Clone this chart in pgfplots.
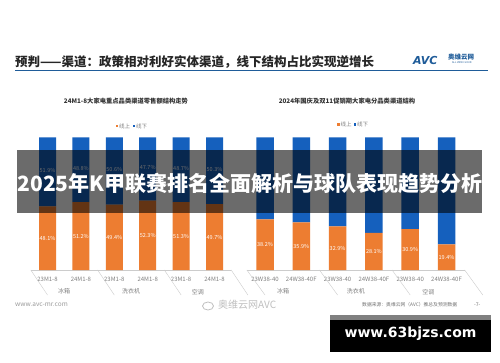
\documentclass[border=0pt]{standalone}
\usepackage{pgfplots}
\usepackage{pgfplotstable}
\pgfplotsset{compat=1.18}
\usepackage{fontspec}
\setmainfont{Noto Sans CJK SC}
\newfontfamily\dejavu{DejaVu Sans}
\definecolor{cOn}{HTML}{ED7D31}
\definecolor{cOff}{HTML}{1560BD}
\definecolor{cLine}{HTML}{1F5C99}
\definecolor{cTick}{HTML}{808080}

% x: bar index, on: 线上 share (%), off: 线下 share (%)
\pgfplotstableread{
x on off
0 48.1 51.9
1 51.2 48.8
2 49.4 50.6
3 52.3 47.7
4 51.3 48.7
5 49.7 50.3
}\leftdata
\pgfplotstableread{
x on off
0 38.2 61.8
1 35.9 64.1
2 32.9 67.1
3 28.1 71.9
4 30.9 69.1
5 19.4 80.6
}\rightdata

\pgfplotsset{
  geom/.style={
    anchor=south west, scale only axis, height=132.5pt,
    xmin=-0.5, xmax=5.5, ymin=0, ymax=100, clip=false,
  },
  panel/.style={
    geom,
    axis line style={draw=none}, ytick=\empty, xtick={0,...,5},
    major tick length=0pt,
    xticklabel style={font=\fontsize{6}{6}\selectfont, text=cTick, anchor=center, yshift=-9pt},
    ybar stacked,
  },
  overlay/.style={geom, hide axis},
  lab/.style={
    draw=none, mark=none, point meta=explicit,
    /pgf/number format/assume math mode=true,
    nodes near coords={\pgfmathprintnumber[fixed,fixed zerofill,precision=1]{\pgfplotspointmeta}\%},
    every node near coord/.append style={font=\fontsize{5.5}{5.5}\selectfont, text=white, anchor=center, inner sep=0pt},
  },
}
\begin{document}
\begin{tikzpicture}[x=1pt,y=1pt]
\fill[white] (0,0) rectangle (500,362);
\useasboundingbox (0,0) rectangle (500,362);
% title
\node[anchor=west, font=\bfseries\fontsize{12.5}{13}\selectfont, inner sep=0, text=black!85] at (15,300) {预判——渠道：政策相对利好实体渠道，线下结构占比实现逆增长};
\draw[cLine, line width=1pt] (15,291) -- (488,291);
% logo
\node[anchor=west, font=\dejavu\bfseries\itshape\fontsize{11}{11}\selectfont, text=cLine, inner sep=0] at (413,302) {AVC};
\node[anchor=west, font=\bfseries\fontsize{6.5}{7}\selectfont, text=cLine, inner sep=0] at (448,305) {奥维云网};
\node[anchor=west, font=\fontsize{2.5}{3}\selectfont, text=cLine, inner sep=0] at (452,299.5) {ALL VIEW CLOUD};
% chart titles
\node[font=\bfseries\fontsize{6.3}{7}\selectfont, text=black!80] at (126,261) {24M1-8大家电重点品类渠道零售额结构走势};
\node[font=\bfseries\fontsize{6.3}{7}\selectfont, text=black!80] at (347,261) {2024年国庆及双11促销期大家电分品类渠道结构};
% legends
\fill[cOn] (115.5,234.5) rectangle (118,237);
\node[anchor=west, inner sep=0, font=\fontsize{5.5}{6}\selectfont, text=cTick] at (119,235.8) {线上};
\fill[cOff] (132.5,234.5) rectangle (135,237);
\node[anchor=west, inner sep=0, font=\fontsize{5.5}{6}\selectfont, text=cTick] at (136,235.8) {线下};
\fill[cOn] (337,236) rectangle (339.5,238.5);
\node[anchor=west, inner sep=0, font=\fontsize{5.5}{6}\selectfont, text=cTick] at (340.5,237.3) {线上};
\fill[cOff] (353.5,236) rectangle (356,238.5);
\node[anchor=west, inner sep=0, font=\fontsize{5.5}{6}\selectfont, text=cTick] at (357,237.3) {线下};

% left panel
\begin{axis}[panel, at={(30.8pt,92pt)}, width=200.4pt, bar width=17pt,
  xticklabels={23M1-8,24M1-8,23M1-8,24M1-8,23M1-8,24M1-8}]
\addplot[fill=cOn, draw=none] table[x=x, y=on] {\leftdata};
\addplot[fill=cOff, draw=none] table[x=x, y=off] {\leftdata};
\draw[black!20] (axis cs:-0.5,0) -- (axis cs:5.5,0);
\draw[black!20] (axis cs:-0.5,0) -- ++(0,-25pt);
\draw[black!20] (axis cs:1.5,0) -- ++(0,-25pt);
\draw[black!20] (axis cs:3.5,0) -- ++(0,-25pt);
\draw[black!20] (axis cs:5.5,0) -- ++(0,-25pt);
\node[font=\fontsize{6}{6}\selectfont, text=cTick, yshift=-21.7pt] at (axis cs:0.5,0) {冰箱};
\node[font=\fontsize{6}{6}\selectfont, text=cTick, yshift=-21.7pt] at (axis cs:2.5,0) {洗衣机};
\node[font=\fontsize{6}{6}\selectfont, text=cTick, yshift=-21.7pt] at (axis cs:4.5,0) {空调};
\end{axis}
\begin{axis}[overlay, at={(30.8pt,92pt)}, width=200.4pt]
\addplot[lab] table[x=x, y expr=\thisrow{on}/2, meta=on] {\leftdata};
\addplot[lab, every node near coord/.append style={yshift=1.5pt}] table[x=x, y expr=100-\thisrow{off}/2, meta=off] {\leftdata};
\end{axis}

% right panel
\begin{axis}[panel, at={(246.85pt,92pt)}, width=217.8pt, bar width=17.5pt,
  xticklabels={23W38-40,24W38-40F,23W38-40,24W38-40F,23W38-40,24W38-40F}]
\addplot[fill=cOn, draw=none] table[x=x, y=on] {\rightdata};
\addplot[fill=cOff, draw=none] table[x=x, y=off] {\rightdata};
\draw[black!20] (axis cs:-0.5,0) -- (axis cs:5.5,0);
\draw[black!20] (axis cs:-0.5,0) -- ++(0,-25pt);
\draw[black!20] (axis cs:1.5,0) -- ++(0,-25pt);
\draw[black!20] (axis cs:3.5,0) -- ++(0,-25pt);
\draw[black!20] (axis cs:5.5,0) -- ++(0,-25pt);
\node[font=\fontsize{6}{6}\selectfont, text=cTick, yshift=-21.7pt] at (axis cs:0.5,0) {冰箱};
\node[font=\fontsize{6}{6}\selectfont, text=cTick, yshift=-21.7pt] at (axis cs:2.5,0) {洗衣机};
\node[font=\fontsize{6}{6}\selectfont, text=cTick, yshift=-21.7pt] at (axis cs:4.5,0) {空调};
\end{axis}
\begin{axis}[overlay, at={(246.85pt,92pt)}, width=217.8pt]
\addplot[lab] table[x=x, y expr=\thisrow{on}/2, meta=on] {\rightdata};
\end{axis}

% footer
\node[anchor=west, inner sep=0, font=\fontsize{6.5}{7}\selectfont, text=black!40] at (15,57) {www.avc-mr.com};
\draw[black!25, line width=0.8pt] (208,56) ellipse (5.5 and 4);
\node[anchor=west, inner sep=0, font=\fontsize{10}{11}\selectfont, text=black!25] at (218,57) {奥维云网AVC};
\node[anchor=west, inner sep=0, font=\fontsize{4.8}{5}\selectfont, text=black!55] at (362,57) {数据来源：奥维云网（AVC）推总及预测数据};
\node[anchor=west, inner sep=0, font=\fontsize{5}{5}\selectfont, text=black!55] at (474,57) {-7-};

% banner overlay
\fill[black, opacity=0.58] (17,149) rectangle (482,212);
\node[font=\bfseries\fontsize{21}{22}\selectfont, text=white] at (250,178.5) {2025年K甲联赛排名全面解析与球队表现趋势分析};

% site box
\fill[black] (330,10) rectangle (491,47);
\fill[black!50] (330,42) rectangle (491,47);
\node[font=\dejavu\bfseries\fontsize{14}{15}\selectfont, text=white] at (410.5,28) {www.63bjzs.com};
\end{tikzpicture}
\end{document}
